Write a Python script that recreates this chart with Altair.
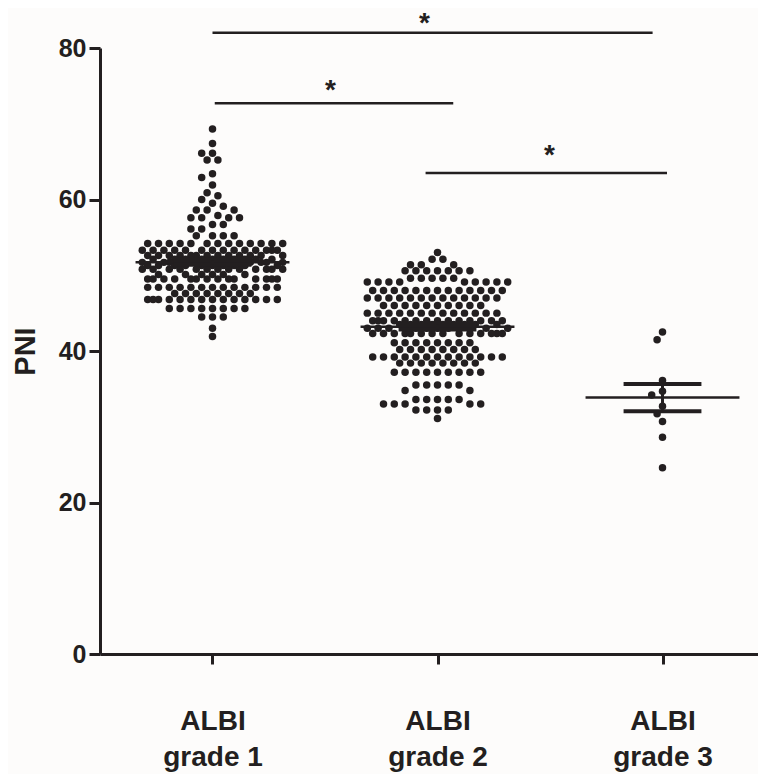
import json
import math
import altair as alt
import pandas as pd

# ---------------- data ----------------
group_pos = [1, 2, 3]
label_line1 = ["ALBI", "ALBI", "ALBI"]
label_line2 = ["grade 1", "grade 2", "grade 3"]

# PNI values per group, given as value levels and number of patients at each level
g1_levels = [69.3, 67.4, 66.1, 65.2, 63.4, 62.9, 61.9, 60.9, 60.5, 60.0, 59.5, 59.1,
             58.6, 57.9, 57.6, 56.7, 56.1, 55.2, 54.2, 53.3, 52.6, 52.1, 51.7, 51.3,
             50.8, 50.1, 49.5, 48.4, 47.6, 46.8, 45.6, 44.5, 43.0, 41.9]
g1_counts = [1, 1, 2, 2, 1, 1, 1, 1, 1, 1, 1, 1,
             3, 1, 4, 2, 2, 4, 13, 14, 13, 10, 14, 10,
             13, 6, 14, 13, 8, 14, 8, 3, 1, 1]

g2_levels = [53.0, 52.1, 51.4, 50.6, 49.6, 49.1, 48.0, 47.0, 46.0, 45.0, 44.0, 43.5,
             43.0, 42.3, 41.1, 40.2, 39.2, 38.4, 37.2, 35.5, 34.8, 33.6, 33.0, 32.2, 31.1]
g2_counts = [1, 2, 3, 7, 5, 9, 13, 13, 10, 13, 14, 9,
             9, 14, 8, 8, 13, 8, 9, 5, 2, 5, 5, 4, 1]

g3_levels = [42.5, 41.5, 36.1, 34.7, 34.2, 32.7, 31.7, 30.7, 28.6, 24.6]
g3_counts = [1, 1, 1, 1, 1, 1, 1, 1, 1, 1]

group_mean = [51.7, 43.2, 33.85]
group_sem = [0.3, 0.35, 1.8]

# significance brackets
sig_x1 = [1.0, 1.01, 1.947]
sig_x2 = [2.956, 2.07, 3.02]
sig_y = [82.0, 72.7, 63.5]
star_x = [1.942, 1.524, 2.498]
star_y = [84.2, 75.4, 66.8]
star_text = ["*", "*", "*"]

# ---------------- layout constants ----------------
W, H = 658, 606
X_DOMAIN = [0.5, 0.5 + W / 225.0]
Y_DOMAIN = [0, 80]
PX_X = W / (X_DOMAIN[1] - X_DOMAIN[0])
PX_Y = H / (Y_DOMAIN[1] - Y_DOMAIN[0])
STEP = 5.4        # horizontal grid step of the dot layout (px)
DIST = 8.0        # minimal distance between dot centres (px)
MAX_HALF = 71.0   # max half width of a swarm (px)
MEAN_HALF = 0.342
SEM_HALF = 0.173
INK = "#231f20"


def swarm(levels, counts, center):
    ys = []
    for v, c in zip(levels, counts):
        ys += [v] * c
    ys.sort(reverse=True)
    kmax = int(MAX_HALF / STEP)
    cands = [0.0]
    for k in range(1, kmax + 1):
        cands += [-k * STEP, k * STEP]
    placed = []
    rows = []
    for y in ys:
        ypx = y * PX_Y
        near = [(px, py) for px, py in placed if abs(py - ypx) < DIST]
        best, bestd = 0.0, -1.0
        for cx in cands:
            d = min((math.hypot(cx - px, ypx - py) for px, py in near), default=1e9)
            if d >= DIST:
                best = cx
                break
            if d > bestd:
                bestd, best = d, cx
        placed.append((best, ypx))
        rows.append({"x": center + best / PX_X, "PNI": y})
    return rows


pts = (swarm(g1_levels, g1_counts, group_pos[0])
       + swarm(g2_levels, g2_counts, group_pos[1])
       + swarm(g3_levels, g3_counts, group_pos[2]))
df_pts = pd.DataFrame(pts)

df_stat = pd.DataFrame({
    "g": group_pos,
    "mean": group_mean,
    "lo": [m - s for m, s in zip(group_mean, group_sem)],
    "hi": [m + s for m, s in zip(group_mean, group_sem)],
    "mx1": [g - MEAN_HALF for g in group_pos],
    "mx2": [g + MEAN_HALF for g in group_pos],
    "sx1": [g - SEM_HALF for g in group_pos],
    "sx2": [g + SEM_HALF for g in group_pos],
})
df_sig = pd.DataFrame({"x1": sig_x1, "x2": sig_x2, "y": sig_y})
df_star = pd.DataFrame({"x": star_x, "y": star_y, "t": star_text})

label_expr = json.dumps([[a, b] for a, b in zip(label_line1, label_line2)]) + "[datum.value - 1]"

xscale = alt.Scale(domain=X_DOMAIN, nice=False, zero=False)
yscale = alt.Scale(domain=Y_DOMAIN, nice=False, zero=False)

x_axis = alt.Axis(
    values=group_pos, title=None, labelExpr=label_expr,
    labelFont="Liberation Sans Narrow, Arial Narrow, Liberation Sans",
    labelFontSize=28, labelFontWeight="bold", labelColor=INK,
    labelLineHeight=36, labelPadding=43, labelBaseline="top",
    domainColor=INK, domainWidth=3, tickColor=INK, tickWidth=3, tickSize=10,
    grid=False,
)
y_axis = alt.Axis(
    values=[0, 20, 40, 60, 80], title="PNI",
    titleFont="Liberation Sans", titleFontSize=29, titleFontWeight="bold",
    titleColor=INK, titlePadding=18,
    labelFont="Liberation Sans", labelFontSize=25, labelFontWeight="bold",
    labelColor=INK, labelPadding=3,
    domainColor=INK, domainWidth=3, tickColor=INK, tickWidth=3, tickSize=11,
    grid=False,
)

points = alt.Chart(df_pts).mark_circle(size=56, color=INK, opacity=1).encode(
    x=alt.X("x:Q", scale=xscale, axis=x_axis),
    y=alt.Y("PNI:Q", scale=yscale, axis=y_axis),
)

mean_line = alt.Chart(df_stat).mark_rule(color=INK, strokeWidth=2.5).encode(
    x="mx1:Q", x2="mx2:Q", y="mean:Q")
sem_hi = alt.Chart(df_stat).mark_rule(color=INK, strokeWidth=4).encode(
    x="sx1:Q", x2="sx2:Q", y="hi:Q")
sem_lo = alt.Chart(df_stat).mark_rule(color=INK, strokeWidth=4).encode(
    x="sx1:Q", x2="sx2:Q", y="lo:Q")
sem_v = alt.Chart(df_stat).mark_rule(color=INK, strokeWidth=3).encode(
    x="g:Q", y="lo:Q", y2="hi:Q")

sig = alt.Chart(df_sig).mark_rule(color=INK, strokeWidth=2.5).encode(
    x="x1:Q", x2="x2:Q", y="y:Q")
stars = alt.Chart(df_star).mark_text(
    font="Liberation Sans", fontSize=28, fontWeight="bold", color=INK,
    baseline="alphabetic", align="center", dy=16,
).encode(x="x:Q", y="y:Q", text="t:N")

chart = alt.layer(points, mean_line, sem_hi, sem_lo, sem_v, sig, stars).properties(
    width=W, height=H,
    autosize=alt.AutoSizeParams(type="none"),
    padding={"left": 92, "top": 40, "right": 0, "bottom": 120},
    background="#fdfcfb",
).configure_view(stroke=None)

chart.save("out.html", embed_options={"renderer": "svg", "actions": False})
